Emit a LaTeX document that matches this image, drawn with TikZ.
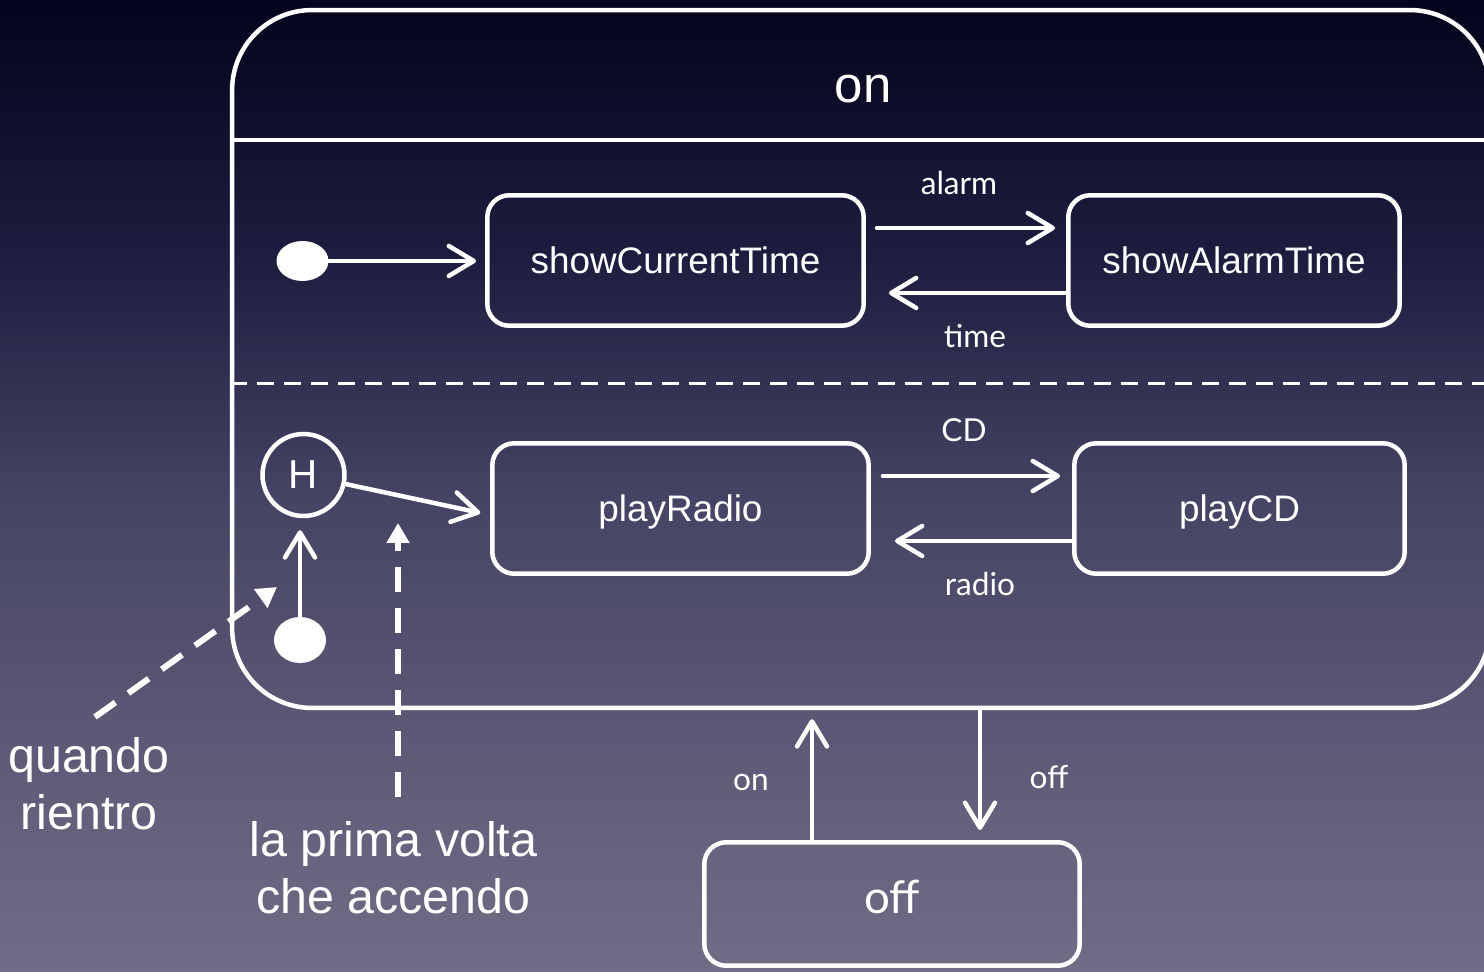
\documentclass[tikz,border=0pt]{standalone}
\usepackage{fontspec}
\setmainfont{Liberation Sans}
\newfontfamily\gillfont{Lato}
\usetikzlibrary{arrows.meta,shapes.geometric}
\definecolor{bgA}{RGB}{4,4,28}
\definecolor{bgB}{RGB}{28,28,62}
\definecolor{bgC}{RGB}{70,68,100}
\definecolor{bgD}{RGB}{112,110,134}
\tikzset{
  wline/.style={draw=white, line width=0.09cm},
  statebox/.style={wline, rectangle, rounded corners=0.44cm, text=white,
    font=\fontsize{21}{25}\selectfont, minimum height=2.61cm, inner sep=0pt,
    text height=0.53cm, text depth=0cm},
  initdot/.style={ellipse, fill=white, inner sep=0pt},
  trans/.style={white, line width=0.09cm, line cap=round,
    -{Straight Barb[length=0.5cm, width=0.6cm, round]}},
  evlabel/.style={text=white, font=\gillfont\fontsize{18}{22}\selectfont, anchor=base},
  note/.style={text=white, font=\fontsize{27.5}{32.5}\selectfont, align=center},
  notearrow/.style={white, line width=0.12cm, dash pattern=on 0.5cm off 0.32cm,
    -{Triangle[length=0.4cm, width=0.44cm]}},
}
\begin{document}
\begin{tikzpicture}[x=0.02cm, y=-0.02cm]
\useasboundingbox (0,0) rectangle (1484,972);
\clip (0,0) rectangle (1484,972);
% background: dark navy fading to grey-violet
\shade[top color=bgA, bottom color=bgB] (0,0) rectangle (1484,251);
\shade[top color=bgB, bottom color=bgC] (0,250) rectangle (1484,501);
\shade[top color=bgC, bottom color=bgD] (0,500) rectangle (1484,972);

% composite state "on"
\node[wline, rectangle, rounded corners=1.6cm, minimum width=25.16cm,
      minimum height=13.96cm, inner sep=0pt] (on) at (861,359) {};
\node[text=white, font=\fontsize{29}{34}\selectfont, anchor=base] (title) at (863,103) {on};
\coordinate (hdr) at (0,140);
\coordinate (reg) at (0,384);
\draw[white, line width=0.08cm] (on.west |- hdr) -- (on.east |- hdr);
\draw[white, line width=0.06cm, dash pattern=on 0.34cm off 0.2cm] (on.west |- reg) -- (on.east |- reg);

% display region
\node[initdot, minimum width=1.04cm, minimum height=0.8cm] (i1) at (302.5,261) {};
\node[statebox, minimum width=7.53cm] (sct) at (675.5,260.5) {showCurrentTime};
\node[statebox, minimum width=6.63cm] (sat) at (1234,260.5) {showAlarmTime};
\draw[trans, shorten >=0.18cm] (i1) -- (i1 -| sct.west);
\draw[trans, shorten <=0.22cm, shorten >=0.22cm] ([yshift=0.65cm]sct.east) -- ([yshift=0.65cm]sat.west);
\draw[trans, shorten >=0.46cm] ([yshift=-0.65cm]sat.west) -- ([yshift=-0.65cm]sct.east);
\node[evlabel] (lalarm) at (959,195) {alarm};
\node[evlabel] (ltime) at (975,348) {time};

% audio region
\node[wline, circle, minimum size=1.64cm, inner sep=0pt, text=white,
      font=\fontsize{23}{27}\selectfont] (H) at (303.5,475) {H};
\node[initdot, minimum width=1.04cm, minimum height=0.92cm] (i2) at (300,640) {};
\node[statebox, minimum width=7.53cm] (pr) at (680.5,508.5) {playRadio};
\node[statebox, minimum width=6.61cm] (pcd) at (1239.5,508.5) {playCD};
\draw[trans, shorten >=0.24cm] (i2) -- (i2 |- H.south);
\draw[trans, shorten >=0.2cm] (H) -- ([yshift=-0.13cm]pr.west);
\draw[trans, shorten <=0.24cm, shorten >=0.24cm] ([yshift=0.65cm]pr.east) -- ([yshift=0.65cm]pcd.west);
\draw[trans, shorten >=0.48cm] ([yshift=-0.65cm]pcd.west) -- ([yshift=-0.65cm]pr.east);
\node[evlabel] (lcd) at (964,442) {CD};
\node[evlabel] (lradio) at (980,596) {radio};

% state "off"
\node[statebox, minimum width=7.51cm, minimum height=2.47cm,
      font=\gillfont\fontsize{26}{30}\selectfont, text height=0.66cm, text depth=0.3cm] (off) at (892,904) {off};
\coordinate (onx) at (812,0);
\coordinate (offx) at (980,0);
\draw[trans, shorten >=0.18cm] (onx |- off.north) -- (onx |- on.south);
\draw[trans, shorten >=0.2cm] (offx |- on.south) -- (offx |- off.north);
\node[evlabel] (lon) at (751,790) {on};
\node[evlabel] (loff) at (1049,788) {off};

% notes
\node[note] (n1) at (89,784) {quando\\rientro};
\node[note] (n2) at (393.5,868) {la prima volta\\che accendo};
\coordinate (q0) at (95,717);
\coordinate (q1) at (277,587);
\coordinate (p0) at (398,797);
\coordinate (p1) at (398,523);
\draw[notearrow] (q0) -- (q1);
\draw[notearrow] (p0) -- (p1);
\end{tikzpicture}
\end{document}
